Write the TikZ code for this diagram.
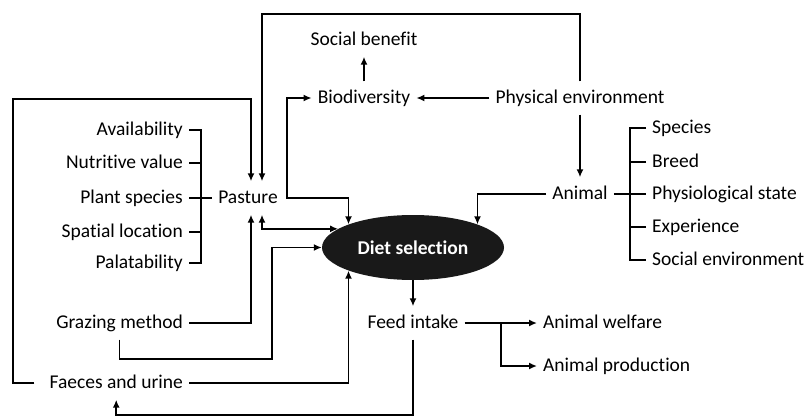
\documentclass[tikz,border=0pt]{standalone}
\usepackage{fontspec}
\setmainfont{Carlito}[Ligatures=NoCommon]
\usetikzlibrary{arrows.meta,shapes.geometric}
\tikzset{lbl/.style = {font=\fontsize{19.5}{22}\selectfont, text=black, inner xsep=6pt, inner ysep=7.5pt, text height=14pt, text depth=4pt}}
\tikzset{hub/.style = {ellipse, fill=black!90, minimum width=182pt, minimum height=65pt, inner sep=0pt, text=white, font=\fontsize{19.5}{22}\selectfont\bfseries}}
\tikzset{tie/.style={line width=1.9pt}}
\tikzset{link/.style={tie,-{Latex[length=8pt,width=7pt]}}}
\tikzset{dlink/.style={tie,{Latex[length=8pt,width=7pt]}-{Latex[length=8pt,width=7pt]}}}

\begin{document}
\begin{tikzpicture}[x=1pt,y=-1pt]
	\useasboundingbox (0,0) rectangle (809,418);
	% hub
	\node[hub] (diet) at (413,247.5) {Diet selection};
	% pasture side
	\node[lbl] (pasture) at (248,198) {Pasture};
	\node[lbl,anchor=east] (avail) at (189,130) {Availability};
	\node[lbl,anchor=east] (nutri) at (189,163) {Nutritive value};
	\node[lbl,anchor=east] (plant) at (189,198) {Plant species};
	\node[lbl,anchor=east] (spatial) at (189,232) {Spatial location};
	\node[lbl,anchor=east] (palat) at (189,263) {Palatability};
	\node[lbl,anchor=east] (graze) at (189,323) {Grazing method};
	\node[lbl,anchor=east] (faeces) at (189,383) {Faeces and urine};
	% top
	\node[lbl] (socben) at (364,40) {Social benefit};
	\node[lbl] (bio) at (364,98) {Biodiversity};
	\node[lbl] (phys) at (580,98) {Physical environment};
	% animal side
	\node[lbl] (animal) at (580,194) {Animal};
	\node[lbl,anchor=west] (species) at (646,128) {Species};
	\node[lbl,anchor=west] (breed) at (646,162) {Breed};
	\node[lbl,anchor=west] (physio) at (646,194) {Physiological state};
	\node[lbl,anchor=west] (exper) at (646,227) {Experience};
	\node[lbl,anchor=west] (socenv) at (646,260) {Social environment};
	% output
	\node[lbl] (feed) at (413,323) {Feed intake};
	\node[lbl,anchor=west] (welfare) at (537,323) {Animal welfare};
	\node[lbl,anchor=west] (prod) at (537,366) {Animal production};

	\coordinate (brL) at (201,0);
	\coordinate (brR) at (630,0);
	\coordinate (fork) at (501,323);

	% brackets
	\draw[tie] (avail.east) -| (palat.east -| brL) -- (palat.east);
	\draw[tie] (nutri.east) -- (nutri.east -| brL);
	\draw[tie] (spatial.east) -- (spatial.east -| brL);
	\draw[tie] (plant.east) -- (pasture.west);
	\draw[tie] (species.west) -| (socenv.west -| brR) -- (socenv.west);
	\draw[tie] (breed.west) -- (breed.west -| brR);
	\draw[tie] (exper.west) -- (exper.west -| brR);
	\draw[tie] (animal.east) -- (physio.west);

	% loops into pasture
	\draw[link] (phys.north) |- (262,14) -- ([xshift=14pt]pasture.north);
	\draw[link] ([xshift=-9pt]faeces.west) -| (13,99) -| ([xshift=3pt]pasture.north);
	\draw[link] (graze.east) -| ([xshift=3pt]pasture.south);
	\draw[dlink] ([xshift=14pt]pasture.south) |- (diet.166);

	% top
	\draw[link] (phys.west) -- (bio.east);
	\draw[link] (bio.north) -- (socben.south);
	\draw[dlink] (bio.west) -| (287,198) -| (diet.north west);
	\draw[link] (phys.south) -- (animal.north);
	\draw[link] (animal.west) -| (diet.north east);

	% into the hub from below
	\draw[link] (graze.south) |- (272,359) |- (diet.west);
	\draw[link] (faeces.east) -| (diet.south west);

	% output
	\draw[link] (diet.south) -- (feed.north);
	\draw[link] (feed.east) -- (welfare.west);
	\draw[link] (fork) |- (prod.west);
	\draw[link] (feed.south) -- (feed.south |- 0,415) -| (faeces.south);
\end{tikzpicture}
\end{document}
